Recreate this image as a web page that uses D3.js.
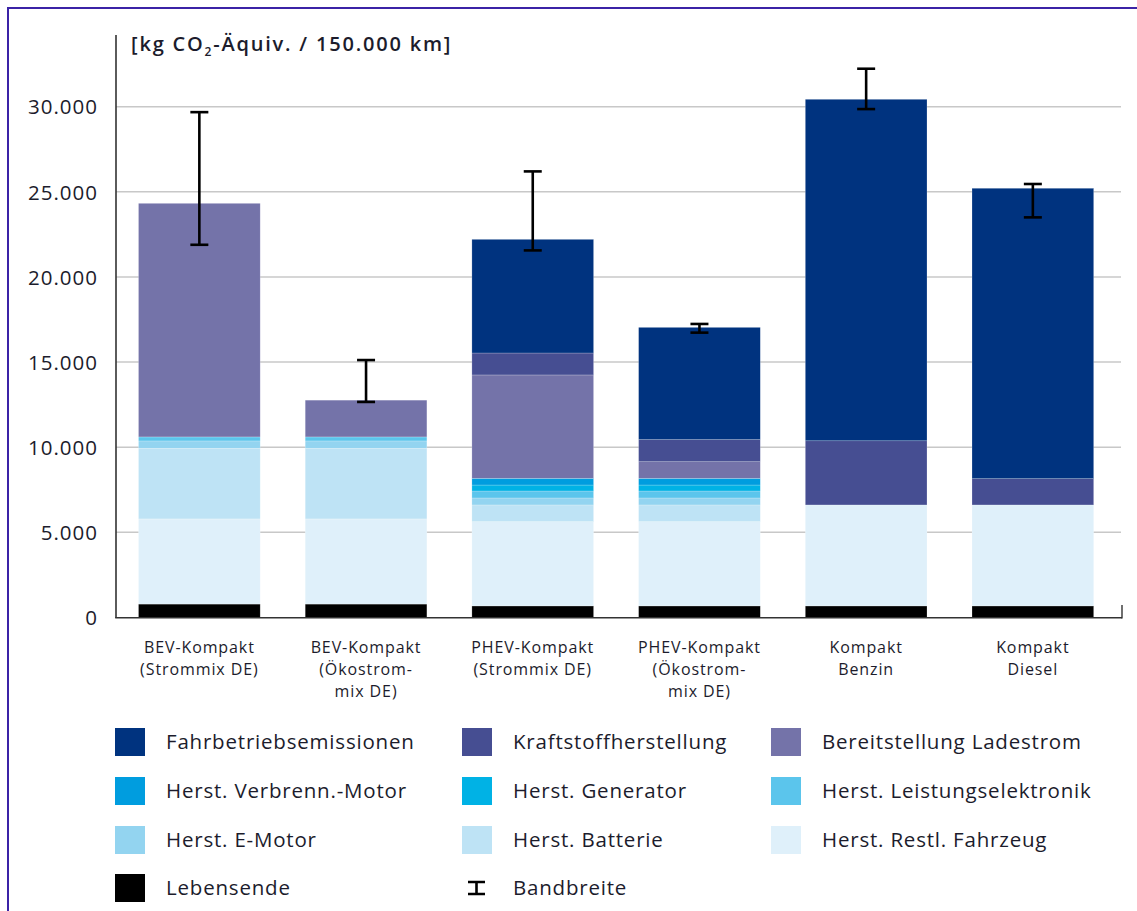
<!DOCTYPE html>
<html><head><meta charset="utf-8">
<script src="https://cdn.jsdelivr.net/npm/d3@7"></script>
<style>
body{margin:0;background:#fff;}
text{font-family:"Open Sans","Noto Sans",sans-serif;fill:#1c1c2c;}
</style></head>
<body>
<svg id="chart" width="1137" height="911"></svg>
<script>
const categories = [
  ["BEV-Kompakt","(Strommix DE)"],
  ["BEV-Kompakt","(Ökostrom-","mix DE)"],
  ["PHEV-Kompakt","(Strommix DE)"],
  ["PHEV-Kompakt","(Ökostrom-","mix DE)"],
  ["Kompakt","Benzin"],
  ["Kompakt","Diesel"]
];
const seriesNames = ["Lebensende","Herst. Restl. Fahrzeug","Herst. Batterie","Herst. E-Motor","Herst. Leistungselektronik","Herst. Generator","Herst. Verbrenn.-Motor","Bereitstellung Ladestrom","Kraftstoffherstellung","Fahrbetriebsemissionen"];
const seriesColors = ["#000000","#dff0fa","#bee3f5","#93d4f0","#5bc5ec","#00b2e5","#009ddf","#7473a9","#464e92","#00337f"];
const lebensende   = [790, 790, 680, 680, 680, 680];
const restlFahrzeug= [5000, 5000, 4950, 4950, 5930, 5930];
const batterie     = [4150, 4150, 980, 980, 0, 0];
const eMotor       = [430, 430, 410, 410, 0, 0];
const leistungsel  = [235, 235, 410, 410, 0, 0];
const generator    = [0, 0, 350, 350, 0, 0];
const verbrenn     = [0, 0, 395, 395, 0, 0];
const ladestrom    = [13720, 2160, 6070, 975, 0, 0];
const kraftstoff   = [0, 0, 1290, 1300, 3770, 1545];
const fahrbetrieb  = [0, 0, 6675, 6590, 20055, 17055];
const errLow  = [21890, 12660, 21560, 16730, 29860, 23500];
const errHigh = [29680, 15120, 26200, 17240, 32230, 25460];
const yTicks = [0, 5000, 10000, 15000, 20000, 25000, 30000];
const legendOrder = ["Fahrbetriebsemissionen","Kraftstoffherstellung","Bereitstellung Ladestrom","Herst. Verbrenn.-Motor","Herst. Generator","Herst. Leistungselektronik","Herst. E-Motor","Herst. Batterie","Herst. Restl. Fahrzeug","Lebensende","Bandbreite"];

const seriesValues = [lebensende,restlFahrzeug,batterie,eMotor,leistungsel,generator,verbrenn,ladestrom,kraftstoff,fahrbetrieb];
const rows = categories.map((c,i)=>{
  const o = {idx:i};
  seriesNames.forEach((s,k)=>o[s]=seriesValues[k][i]);
  return o;
});
const stack = d3.stack().keys(seriesNames)(rows);

const svg = d3.select("#chart");
const loc = d3.formatLocale({decimal:",",thousands:".",grouping:[3],currency:["","€"]});
const fmt = loc.format(",d");

// frame
svg.append("path").attr("d","M8,920 L8,8 L1150,8").attr("fill","none").attr("stroke","#3b23a6").attr("stroke-width",2);

const x = d3.scaleBand().domain(d3.range(categories.length)).range([116,1116.2]).paddingInner(0.27).paddingOuter(0.135);
const y = d3.scaleLinear().domain([0,30000]).range([617.5,106.7]);

// grid
svg.append("g").selectAll("line").data(yTicks.filter(t=>t>0)).join("line")
  .attr("x1",116).attr("x2",1121).attr("y1",d=>y(d)).attr("y2",d=>y(d))
  .attr("stroke","#c8c8c8").attr("stroke-width",1.5);

// y tick labels
const yAxis = d3.axisLeft(y).tickValues(yTicks).tickFormat(fmt).tickSize(0).tickPadding(0);
const ga = svg.append("g").attr("transform","translate(98,0)").call(yAxis);
ga.select(".domain").remove();
ga.selectAll("text").attr("font-size",20.5).attr("letter-spacing",1).attr("dy","0.35em").attr("fill","#1c1c2c").attr("font-family","\"Open Sans\",sans-serif");

// bars
svg.append("g").selectAll("g").data(stack).join("g")
  .attr("fill",(d,i)=>seriesColors[i])
  .selectAll("rect").data(d=>d.filter(p=>p[1]-p[0]>0)).join("rect")
  .attr("x",d=>x(d.data.idx)).attr("width",x.bandwidth())
  .attr("y",d=>y(d[1])).attr("height",d=>y(d[0])-y(d[1]))
  .attr("stroke","rgba(255,255,255,0.35)").attr("stroke-width",0.6);

// axes lines
svg.append("line").attr("x1",116).attr("x2",116).attr("y1",35).attr("y2",618).attr("stroke","#333").attr("stroke-width",1.6);
svg.append("line").attr("x1",115.2).attr("x2",1122).attr("y1",617.7).attr("y2",617.7).attr("stroke","#333").attr("stroke-width",1.6);
svg.append("line").attr("x1",1122).attr("x2",1122).attr("y1",618.5).attr("y2",605).attr("stroke","#333").attr("stroke-width",1.4);

// error bars
const eg = svg.append("g").attr("stroke","#000").attr("stroke-width",2.6);
categories.forEach((c,i)=>{
  const cx = x(i)+x.bandwidth()/2;
  eg.append("line").attr("x1",cx).attr("x2",cx).attr("y1",y(errHigh[i])).attr("y2",y(errLow[i]));
  eg.append("line").attr("x1",cx-9).attr("x2",cx+9).attr("y1",y(errHigh[i])).attr("y2",y(errHigh[i]));
  eg.append("line").attr("x1",cx-9).attr("x2",cx+9).attr("y1",y(errLow[i])).attr("y2",y(errLow[i]));
});

// category labels
categories.forEach((c,i)=>{
  c.forEach((line,k)=>svg.append("text").attr("text-anchor","middle").attr("font-size",16).attr("letter-spacing",0.9)
    .attr("x",x(i)+x.bandwidth()/2).attr("y",653+k*22).text(line));
});

// title
const tt = svg.append("text").attr("x",131).attr("y",51).attr("font-size",20).attr("font-weight",600).attr("letter-spacing",1.8);
tt.append("tspan").text("[kg CO");
tt.append("tspan").attr("font-size",12).attr("dy",5).text("2");
tt.append("tspan").attr("dy",-5).text("-Äquiv. / 150.000 km]");

// legend
const colX = [115, 462, 771];
const rowY = [742, 791, 840, 888];
legendOrder.forEach((name,i)=>{
  const col = i%3, row = Math.floor(i/3);
  const gx = colX[col], gy = rowY[row];
  const g = svg.append("g");
  if(name==="Bandbreite"){
    g.append("path").attr("d",`M${gx+6},${gy-6} h17 M${gx+14.5},${gy-6} v12 M${gx+6},${gy+6} h17`)
      .attr("stroke","#000").attr("stroke-width",2.6).attr("fill","none");
  } else {
    const k = seriesNames.indexOf(name);
    g.append("rect").attr("x",gx).attr("y",gy-14).attr("width",30).attr("height",28).attr("fill",seriesColors[k]);
  }
  g.append("text").attr("x",gx+51).attr("y",gy).attr("dy","0.35em").attr("font-size",20.5).attr("letter-spacing",0.8).text(name);
});
</script>
</body></html>
